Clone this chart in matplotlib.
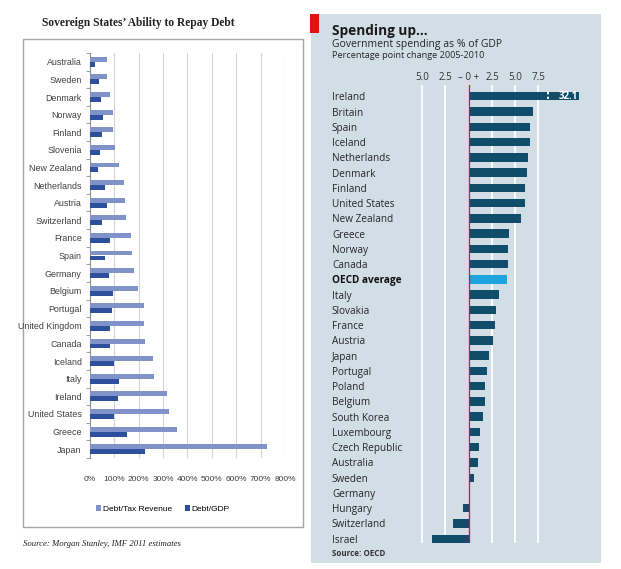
import numpy as np
import matplotlib
matplotlib.use("Agg")
import matplotlib.pyplot as plt
from matplotlib.patches import Rectangle

W, H = 621, 569

# left chart data (Morgan Stanley / IMF 2011 estimates), in %
debt_countries = ['Australia', 'Sweden', 'Denmark', 'Norway', 'Finland', 'Slovenia',
                  'New Zealand', 'Netherlands', 'Austria', 'Switzerland', 'France', 'Spain',
                  'Germany', 'Belgium', 'Portugal', 'United Kingdom', 'Canada', 'Iceland',
                  'Italy', 'Ireland', 'United States', 'Greece', 'Japan']
debt_tax = [71, 71, 82, 93, 93, 101, 119, 141, 144, 149, 168, 173,
            182, 197, 222, 222, 224, 260, 264, 317, 326, 358, 726]
debt_gdp = [22, 36, 44, 53, 51, 40, 34, 63, 68, 51, 82, 62,
            78, 95, 91, 81, 81, 100, 118, 113, 100, 151, 227]
debt_ticks = [0, 100, 200, 300, 400, 500, 600, 700, 800]

# right chart data (OECD), percentage point change 2005-2010
spend_countries = ['Ireland', 'Britain', 'Spain', 'Iceland', 'Netherlands', 'Denmark',
                   'Finland', 'United States', 'New Zealand', 'Greece', 'Norway', 'Canada',
                   'OECD average', 'Italy', 'Slovakia', 'France', 'Austria', 'Japan',
                   'Portugal', 'Poland', 'Belgium', 'South Korea', 'Luxembourg',
                   'Czech Republic', 'Australia', 'Sweden', 'Germany', 'Hungary',
                   'Switzerland', 'Israel']
spend_change = [32.1, 6.95, 6.6, 6.55, 6.35, 6.25, 6.05, 6.0, 5.65, 4.35, 4.25, 4.2,
                4.15, 3.3, 2.9, 2.8, 2.6, 2.2, 2.0, 1.8, 1.7, 1.5, 1.2, 1.15, 1.0,
                0.6, 0.1, -0.6, -1.7, -4.0]
spend_ticks = [-5, -2.5, 0, 2.5, 5, 7.5]
spend_ticklabels = ['5.0', '2.5', '\u2013 0 +', '2.5', '5.0', '7.5']
spend_cap = 11.9  # where the broken Ireland bar is cut off

NARROW = ['Liberation Sans Narrow', 'Liberation Sans', 'DejaVu Sans']
SERIF = ['Liberation Serif', 'DejaVu Serif']
ECON = ['Open Sans', 'DejaVu Sans']


def fx(px):
    return px / W


def fy(py):
    return 1 - py / H


def plot_debt(fig):
    # frame round the excel chart
    fig.patches.append(Rectangle((fx(23), fy(527)), fx(303) - fx(23), fy(39) - fy(527),
                                 transform=fig.transFigure, fill=False,
                                 edgecolor='#a6a6a6', lw=1.0, zorder=-5))
    fig.text(fx(138), fy(23), "Sovereign States\u2019 Ability to Repay Debt",
             ha='center', va='center', fontsize=8.3, family=SERIF, fontweight='semibold',
             color='#222222')

    ax = fig.add_axes([fx(90), fy(458), fx(285) - fx(90), fy(53) - fy(458)])
    y = np.arange(len(debt_countries))
    ax.barh(y - 0.14, debt_tax, height=0.28, color='#7f93c8', label='Debt/Tax Revenue', zorder=3)
    ax.barh(y + 0.14, debt_gdp, height=0.28, color='#2e4f9c', label='Debt/GDP', zorder=3)
    ax.set_xlim(0, 800)
    ax.set_ylim(len(debt_countries) - 0.5, -0.5)
    ax.set_xticks(debt_ticks)
    ax.set_xticklabels([f'{t}%' for t in debt_ticks], family=NARROW, fontsize=6, color='#404040')
    ax.set_yticks(y)
    ax.set_yticklabels(debt_countries, family=NARROW, fontsize=6.4, color='#404040')
    ax.set_yticks(np.arange(len(debt_countries) + 1) - 0.5, minor=True)
    ax.tick_params(axis='y', which='major', length=0, pad=6)
    ax.tick_params(axis='y', which='minor', length=3, color='#909090')
    ax.tick_params(axis='x', length=0, pad=13)
    ax.grid(axis='x', color='#d4d4d4', lw=0.8, zorder=0)
    for s in ['top', 'right', 'bottom']:
        ax.spines[s].set_visible(False)
    ax.spines['left'].set_color('#909090')
    ax.legend(loc='center', bbox_to_anchor=(fx(163), fy(509)), bbox_transform=fig.transFigure,
              ncol=2, frameon=False, handlelength=0.6, handleheight=0.6, handletextpad=0.2,
              columnspacing=1.6, prop={'family': NARROW, 'size': 6})
    fig.text(fx(23), fy(544), "Source: Morgan Stanley, IMF 2011 estimates", ha='left',
             va='center', fontsize=6.3, family=SERIF, style='italic', color='#222222')


def plot_spending(fig):
    bg = '#d1dee6'
    fig.patches.append(Rectangle((fx(311), fy(563)), fx(601) - fx(311), fy(14) - fy(563),
                                 transform=fig.transFigure, color=bg, lw=0, zorder=-5))
    fig.patches.append(Rectangle((fx(310), fy(33)), fx(319) - fx(310), fy(14) - fy(33),
                                 transform=fig.transFigure, color='#e3120b', lw=0, zorder=-4))
    fig.text(fx(332), fy(31), "Spending up...", ha='left', va='center', fontsize=9.8,
             family=ECON, fontweight='bold', color='#1a1a1a')
    fig.text(fx(332), fy(44), "Government spending as % of GDP", ha='left', va='center',
             fontsize=7.5, family=ECON, color='#262626')
    fig.text(fx(332), fy(56), "Percentage point change 2005-2010", ha='left', va='center',
             fontsize=6.6, family=ECON, color='#262626')
    fig.text(fx(332), fy(554), "Source: OECD", ha='left', va='center', fontsize=5.8,
             family=ECON, fontweight='bold', color='#333333')

    ax = fig.add_axes([fx(400), fy(543), fx(590) - fx(400), fy(84.7) - fy(543)])
    ax.set_facecolor('none')
    y = np.arange(len(spend_countries))
    vals = np.minimum(spend_change, spend_cap)
    colors = ['#1ea3dc' if c == 'OECD average' else '#0f4d6b' for c in spend_countries]
    ax.barh(y, vals, height=0.55, color=colors, zorder=3)
    for t in spend_ticks:
        if t != 0:
            ax.axvline(t, color='white', lw=1.3, zorder=1)
    ax.axvline(0, color='#e3120b', lw=0.9, zorder=4)

    # broken bar label for the off-scale value
    for i, v in enumerate(spend_change):
        if v > spend_cap:
            ax.vlines(spend_cap - 3.4, i - 0.27, i + 0.27, colors='white', lw=1.4,
                      linestyles=(0, (1.2, 1.2)), zorder=5)
            ax.text(spend_cap - 0.2, i, f'{v:.1f}', ha='right', va='center', fontsize=7,
                    family=ECON, fontweight='bold', color='white', zorder=6)

    ax.set_xlim((400 - 468.7) / 9.3, (590 - 468.7) / 9.3)
    ax.set_ylim(len(spend_countries) - 1 + 0.28, -0.76)
    ax.xaxis.tick_top()
    ax.set_xticks(spend_ticks)
    ax.set_xticklabels(spend_ticklabels, family=ECON, fontsize=7, color='#333333')
    ax.tick_params(axis='x', length=0, pad=1)
    ax.set_yticks(y)
    ax.set_yticklabels(spend_countries, family=ECON, fontsize=7.2, color='#262626', ha='left')
    ax.tick_params(axis='y', length=0, pad=49)
    for lab in ax.get_yticklabels():
        if lab.get_text() == 'OECD average':
            lab.set_fontweight('bold')
            lab.set_color('#111111')
    for s in ax.spines.values():
        s.set_visible(False)


def main():
    fig = plt.figure(figsize=(W / 100, H / 100), dpi=100)
    fig.patch.set_facecolor('white')
    plot_debt(fig)
    plot_spending(fig)
    fig.savefig('out.png', dpi=100)


if __name__ == "__main__":
    main()
